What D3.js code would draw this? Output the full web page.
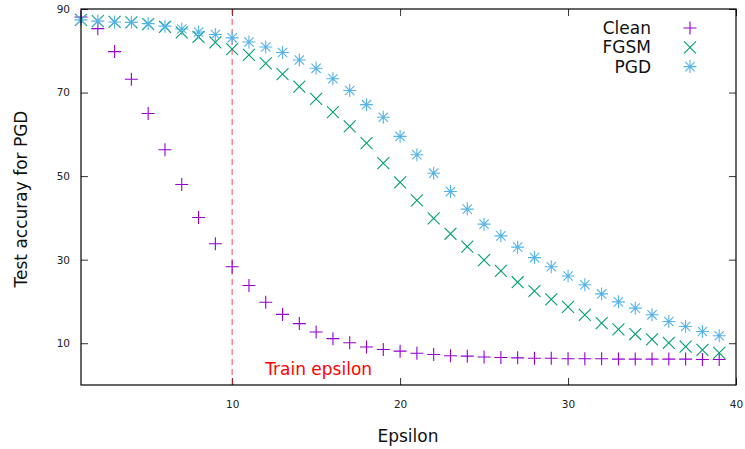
<!DOCTYPE html>
<html>
<head>
<meta charset="utf-8">
<script src="https://cdn.jsdelivr.net/npm/d3@7"></script>
<style>
  body { margin: 0; background: #fff; }
  text { font-family: "DejaVu Sans", sans-serif; }
</style>
</head>
<body>
<div id="chart"></div>
<script>
// Data
var epsilon = [1, 2, 3, 4, 5, 6, 7, 8, 9, 10, 11, 12, 13, 14, 15, 16, 17, 18, 19, 20,
               21, 22, 23, 24, 25, 26, 27, 28, 29, 30, 31, 32, 33, 34, 35, 36, 37, 38, 39];
var clean = [88.1, 85.3, 79.8, 73.2, 65.0, 56.3, 48.0, 40.1, 33.8, 28.3, 23.8, 19.8, 16.9, 14.7, 12.7,
             11.1, 10.1, 9.1, 8.5, 8.1, 7.6, 7.3, 7.0, 6.9, 6.7, 6.6, 6.5, 6.4, 6.4, 6.3,
             6.3, 6.3, 6.2, 6.2, 6.2, 6.2, 6.2, 6.1, 6.1];
var fgsm = [87.4, 87.1, 86.9, 86.8, 86.4, 85.7, 84.4, 83.3, 82.0, 80.4, 79.0, 77.0, 74.4, 71.4, 68.5,
            65.3, 61.9, 57.9, 53.1, 48.5, 44.2, 39.9, 36.2, 33.1, 29.9, 27.3, 24.6, 22.5, 20.5, 18.7,
            16.8, 14.8, 13.3, 12.2, 10.9, 10.1, 9.2, 8.4, 7.7];
var pgd = [87.4, 87.1, 86.9, 86.8, 86.5, 85.9, 85.2, 84.5, 83.9, 83.1, 82.1, 80.9, 79.6, 77.8, 75.8,
           73.3, 70.5, 67.1, 64.1, 59.5, 55.1, 50.7, 46.3, 42.1, 38.5, 35.7, 33.0, 30.5, 28.3, 26.1,
           24.0, 21.8, 19.9, 18.4, 16.8, 15.2, 14.0, 12.8, 11.8];
var xTicks = [10, 20, 30, 40];
var yTicks = [10, 30, 50, 70, 90];
var trainEpsilon = 10;

var seriesNames = ["Clean", "FGSM", "PGD"];
var seriesColors = ["#9400d3", "#009e73", "#56b4e9"];
var seriesShapes = ["plus", "cross", "star"];

// SVG area
var svgWidth = 745;
var svgHeight = 449;
var margin = { top: 9, right: 9, bottom: 64, left: 81 };
var width = svgWidth - margin.left - margin.right;
var height = svgHeight - margin.top - margin.bottom;

var svg = d3.select("#chart")
  .append("svg")
  .attr("width", svgWidth)
  .attr("height", svgHeight);

var chartGroup = svg.append("g")
  .attr("transform", `translate(${margin.left}, ${margin.top})`);

// Scales
var xScale = d3.scaleLinear().domain([1, 40]).range([0, width]);
var yScale = d3.scaleLinear().domain([0, 90]).range([height, 0]);

// Axes, ticks pointing inward, mirrored on top and right
function styleAxis(g) {
  g.select(".domain").remove();
  g.selectAll(".tick line").attr("stroke", "#333");
  g.selectAll(".tick text").style("font-size", "10.5px").attr("fill", "#222");
}

chartGroup.append("g")
  .attr("transform", `translate(0, ${height})`)
  .call(d3.axisBottom(xScale).tickValues(xTicks).tickSize(-7).tickPadding(16))
  .call(styleAxis);

chartGroup.append("g")
  .call(d3.axisTop(xScale).tickValues(xTicks).tickSize(-7).tickFormat(""))
  .call(styleAxis);

chartGroup.append("g")
  .call(d3.axisLeft(yScale).tickValues(yTicks).tickSize(-7).tickPadding(11))
  .call(styleAxis);

chartGroup.append("g")
  .attr("transform", `translate(${width}, 0)`)
  .call(d3.axisRight(yScale).tickValues(yTicks).tickSize(-7).tickFormat(""))
  .call(styleAxis);

// Train epsilon marker line
chartGroup.append("line")
  .attr("x1", xScale(trainEpsilon))
  .attr("x2", xScale(trainEpsilon))
  .attr("y1", 0)
  .attr("y2", height)
  .attr("stroke", "#ff0000")
  .attr("stroke-opacity", 0.6)
  .attr("stroke-width", 1.2)
  .attr("stroke-dasharray", "6,4");

chartGroup.append("text")
  .attr("x", xScale(trainEpsilon) + 33)
  .attr("y", height - 10)
  .attr("fill", "#ff0000")
  .style("font-size", "17px")
  .text("Train epsilon");

// Point marker paths
function markerPath(shape, s) {
  var plus = `M${-s},0H${s}M0,${-s}V${s}`;
  var d = s * 0.92;
  var cross = `M${-d},${-d}L${d},${d}M${-d},${d}L${d},${-d}`;
  if (shape === "plus") return plus;
  if (shape === "cross") return cross;
  var a = s * 0.72;
  return plus + `M${-a},${-a}L${a},${a}M${-a},${a}L${a},${-a}`;
}

var seriesValues = [clean, fgsm, pgd];

seriesValues.forEach(function(values, i) {
  chartGroup.append("g")
    .selectAll("path")
    .data(values)
    .enter()
    .append("path")
    .attr("transform", (d, j) => `translate(${xScale(epsilon[j])}, ${yScale(d)})`)
    .attr("d", markerPath(seriesShapes[i], 6.5))
    .attr("fill", "none")
    .attr("stroke", seriesColors[i])
    .attr("stroke-width", 1.1);
});

// Frame
chartGroup.append("rect")
  .attr("width", width)
  .attr("height", height)
  .attr("fill", "none")
  .attr("stroke", "#000")
  .attr("stroke-width", 1.2);

// Legend
var legend = chartGroup.selectAll(".legend")
  .data(seriesNames)
  .enter()
  .append("g")
  .attr("transform", (d, i) => `translate(0, ${19 + i * 19.3})`);

legend.append("text")
  .attr("x", 570)
  .attr("dy", "0.35em")
  .attr("text-anchor", "end")
  .style("font-size", "17px")
  .attr("fill", "#111")
  .text(d => d);

legend.append("path")
  .attr("transform", "translate(609, 0)")
  .attr("d", (d, i) => markerPath(seriesShapes[i], 6.5))
  .attr("fill", "none")
  .attr("stroke", (d, i) => seriesColors[i])
  .attr("stroke-width", 1.1);

// Axis labels
chartGroup.append("text")
  .attr("transform", "rotate(-90)")
  .attr("x", 0 - 190)
  .attr("y", 0 - margin.left + 27)
  .attr("text-anchor", "middle")
  .style("font-size", "17px")
  .attr("fill", "#111")
  .text("Test accuray for PGD");

chartGroup.append("text")
  .attr("x", 327)
  .attr("y", height + 57)
  .attr("text-anchor", "middle")
  .style("font-size", "17px")
  .attr("fill", "#111")
  .text("Epsilon");
</script>
</body>
</html>
